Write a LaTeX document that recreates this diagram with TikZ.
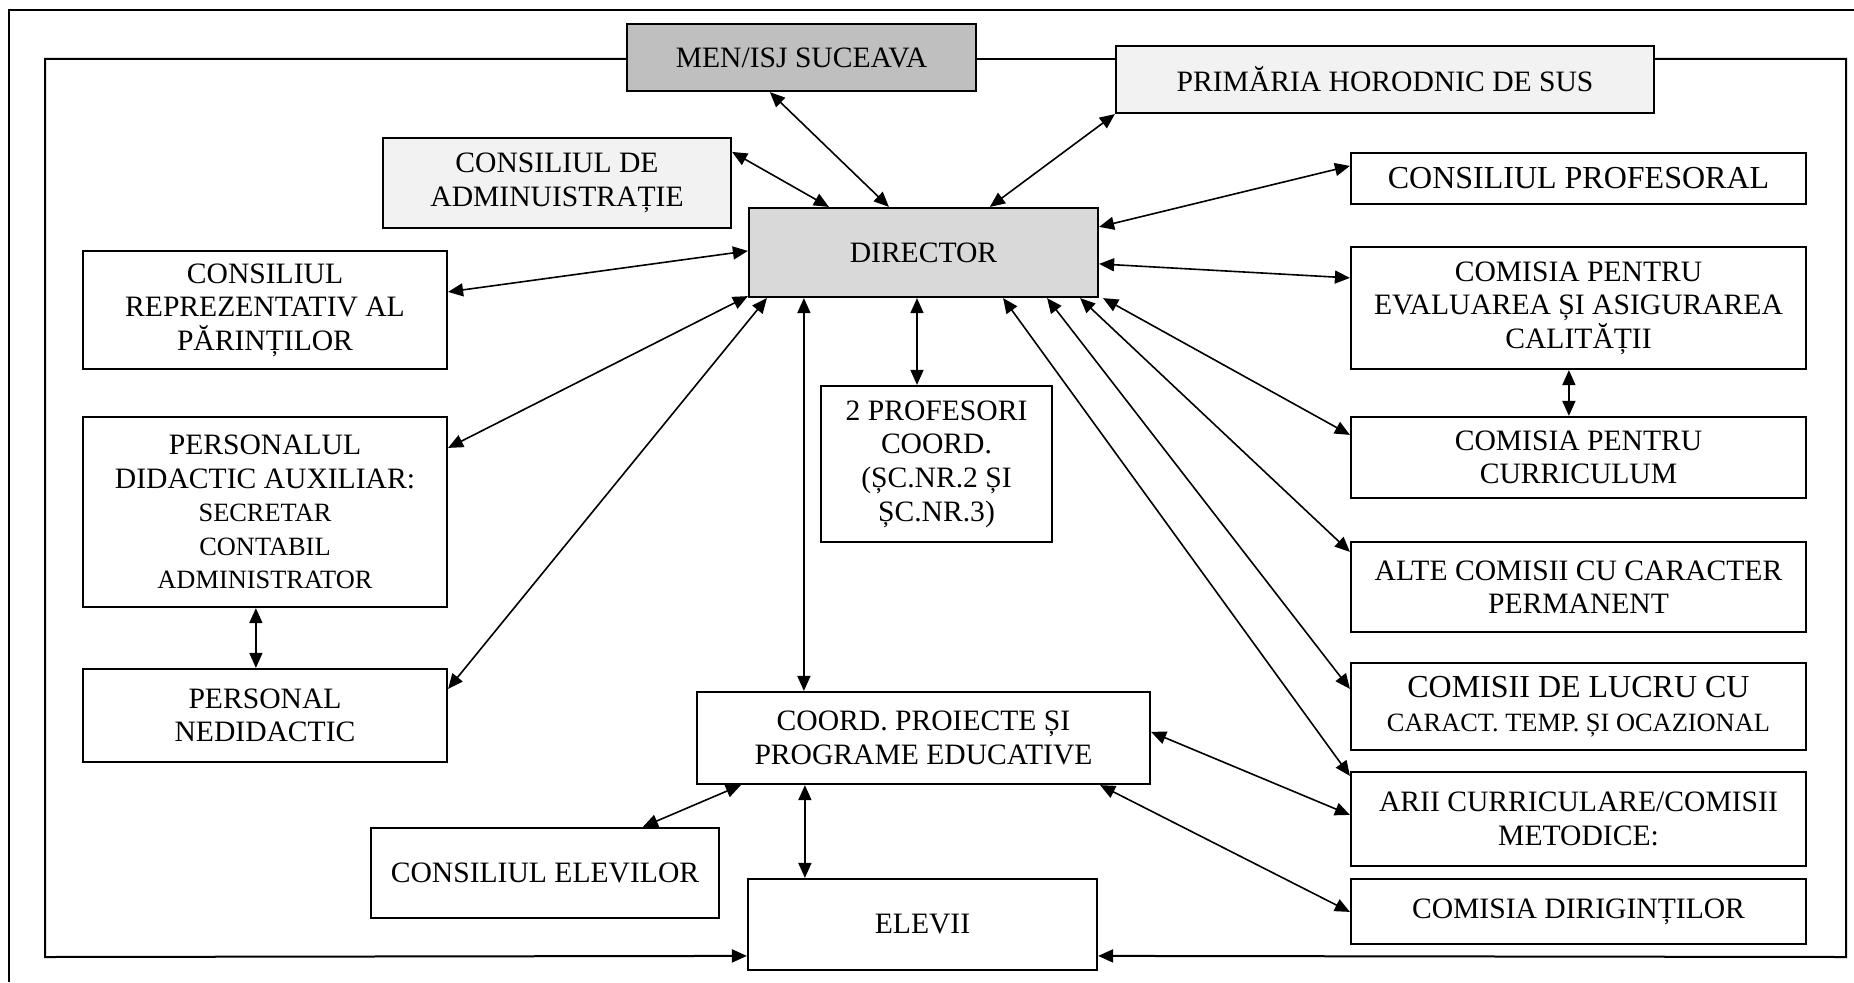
\documentclass[tikz,border=0pt]{standalone}
\usepackage{fontspec}
\setmainfont{Liberation Serif}
\usetikzlibrary{arrows.meta,calc}
\newcommand\smf{\fontsize{13.2}{14.2}\selectfont}
\newcommand\bigf{\fontsize{16}{17.5}\selectfont}
\definecolor{menfill}{HTML}{BFBFBF}
\definecolor{dirfill}{HTML}{D9D9D9}
\definecolor{lightfill}{HTML}{F2F2F2}
\begin{document}
\begin{tikzpicture}[x=0.5pt,y=-0.5pt,
  >={Triangle[length=7.5pt,width=6.5pt]},
  box/.style={draw, line width=1.1pt, align=center, inner sep=0pt,
    font=\fontsize{14.8}{16.8}\selectfont},
  conn/.style={line width=0.8pt, <->},
  frameline/.style={line width=1pt}]
\useasboundingbox (0,0) rectangle (1854,982);
% outer frame
\coordinate (o1) at (8.5,982);
\coordinate (o3) at (1854,9.5);
\draw[frameline] (o1) |- (o3);
% boxes
\node[box, fill=menfill, minimum width=174.5pt, minimum height=33.5pt] (men) at (801.5,57.5) {MEN/ISJ SUCEAVA};
\node[box, fill=lightfill, minimum width=269pt, minimum height=33.5pt] (prim) at (1385,79.5) {PRIMĂRIA HORODNIC DE SUS};
\node[box, fill=lightfill, minimum width=174pt, minimum height=45pt] (cda) at (557,183) {CONSILIUL DE\\ADMINUISTRAȚIE};
\node[box, fill=dirfill, minimum width=174.5pt, minimum height=44.5pt] (dir) at (923.5,252.5) {DIRECTOR};
\node[box, minimum width=227.5pt, minimum height=25.5pt, font=\bigf] (cp) at (1578.5,178.5) {CONSILIUL PROFESORAL};
\node[box, minimum width=182pt, minimum height=59pt] (crp) at (265,310) {CONSILIUL\\REPREZENTATIV AL\\PĂRINȚILOR};
\node[box, minimum width=227.5pt, minimum height=61pt] (ceac) at (1578.5,308) {COMISIA PENTRU\\EVALUAREA ȘI ASIGURAREA\\CALITĂȚII};
\node[box, minimum width=115.5pt, minimum height=78pt] (prof) at (936.5,464) {2 PROFESORI\\COORD.\\(ȘC.NR.2 ȘI\\ȘC.NR.3)};
\node[box, minimum width=182pt, minimum height=95pt] (pda) at (265,512) {PERSONALUL\\DIDACTIC AUXILIAR:\\\smf SECRETAR\\\smf CONTABIL\\\smf ADMINISTRATOR};
\node[box, minimum width=227.5pt, minimum height=40.5pt] (ccur) at (1578.5,457.5) {COMISIA PENTRU\\CURRICULUM};
\node[box, minimum width=227.5pt, minimum height=45pt] (alte) at (1578.5,587) {ALTE COMISII CU CARACTER\\PERMANENT};
\node[box, minimum width=182pt, minimum height=46.5pt] (pn) at (265,715.5) {PERSONAL\\NEDIDACTIC};
\node[box, minimum width=226.5pt, minimum height=46pt] (coord) at (923.5,738) {COORD. PROIECTE ȘI\\PROGRAME EDUCATIVE};
\node[box, minimum width=227.5pt, minimum height=43.5pt] (clucru) at (1578.5,706.5) {\bigf COMISII DE LUCRU CU\\\smf CARACT. TEMP. ȘI OCAZIONAL};
\node[box, minimum width=227.5pt, minimum height=47pt] (arii) at (1578.5,819) {ARII CURRICULARE/COMISII\\METODICE:};
\node[box, minimum width=174pt, minimum height=45pt] (cel) at (545,873) {CONSILIUL ELEVILOR};
\node[box, minimum width=227.5pt, minimum height=32.5pt] (dirig) at (1578.5,911.5) {COMISIA DIRIGINȚILOR};
\node[box, minimum width=174.5pt, minimum height=45.5pt] (elevii) at (922.5,924.5) {ELEVII};
% inner frame
\coordinate (fl) at (45,957);
\coordinate (fr) at (1846,957);
\draw[frameline,->] ($(men.north west)+(0,36)$) -| (fl) -- ($(elevii.north west)+(0,78)$);
\draw[frameline,->] ($(prim.north east)+(0,14)$) -| (fr) -- ($(elevii.north east)+(0,78)$);
\draw[frameline] ($(men.north east)+(0,36)$) -- ($(prim.north west)+(0,14)$);
% connectors
\draw[conn] ($(men.south west)+(144,0)$) -- ($(dir.north west)+(141,0)$);
\draw[conn] ($(cda.north east)+(0,15)$) -- ($(dir.north west)+(81,0)$);
\draw[conn] (prim.south west) -- ($(dir.north west)+(242,0)$);
\draw[conn] ($(cp.north west)+(0,14)$) -- ($(dir.north east)+(0,20)$);
\draw[conn] ($(crp.north east)+(0,42)$) -- ($(dir.north west)+(0,44)$);
\draw[conn] ($(pda.north east)+(0,32)$) -- ($(dir.south west)+(0,-2)$);
\draw[conn] ($(pn.north east)+(0,21)$) -- ($(dir.south west)+(19,0)$);
\draw[conn] ($(dir.south)+(-6.5,0)$) -- ($(prof.north)+(-19.5,0)$);
\draw[conn] ($(dir.south west)+(56,0)$) -- ($(coord.north west)+(108,0)$);
\draw[conn] ($(dir.north east)+(0,57)$) -- ($(ceac.north west)+(0,32)$);
\draw[conn] ($(dir.south east)+(4,0)$) -- ($(ccur.north west)+(0,19)$);
\draw[conn] ($(dir.south east)+(-19,0)$) -- ($(alte.north west)+(0,11)$);
\draw[conn] ($(dir.south east)+(-52,0)$) -- ($(clucru.north west)+(0,27)$);
\draw[conn] ($(dir.south east)+(-96,0)$) -- ($(arii.north west)+(0,5)$);
\draw[conn] ($(ceac.south west)+(219,0)$) -- ($(ccur.north west)+(219,0)$);
\draw[conn] ($(pda.south west)+(174,0)$) -- ($(pn.north west)+(174,0)$);
\draw[conn] ($(coord.south west)+(45,0)$) -- ($(cel.north west)+(273,0)$);
\draw[conn] ($(coord.south west)+(109,0)$) -- ($(elevii.north west)+(58,0)$);
\draw[conn] ($(coord.north east)+(0,41)$) -- ($(arii.north west)+(0,44)$);
\draw[conn] ($(coord.south east)+(-51,0)$) -- ($(dirig.north west)+(0,34)$);
\end{tikzpicture}
\end{document}
